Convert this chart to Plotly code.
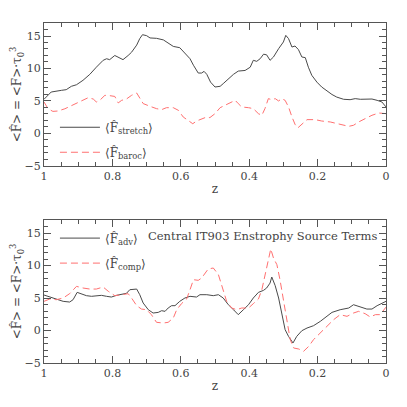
"""
Central IT903 enstrophy source terms, two stacked panels
"""

import plotly.graph_objects as go
from plotly.subplots import make_subplots

# painel superior
z_stretch = [1.0, 0.979, 0.949, 0.935, 0.92, 0.905, 0.886, 0.866, 0.847, 0.827, 0.817, 0.808,
             0.793, 0.783, 0.769, 0.754, 0.744, 0.729, 0.72, 0.712, 0.7, 0.69, 0.671, 0.651,
             0.637, 0.622, 0.603, 0.588, 0.573, 0.563, 0.549, 0.539, 0.532, 0.524, 0.513, 0.5,
             0.485, 0.476, 0.461, 0.446, 0.432, 0.412, 0.397, 0.388, 0.378, 0.368, 0.358, 0.349,
             0.339, 0.329, 0.314, 0.3, 0.293, 0.285, 0.275, 0.266, 0.256, 0.246, 0.236, 0.227,
             0.217, 0.202, 0.188, 0.173, 0.158, 0.144, 0.124, 0.105, 0.09, 0.075, 0.056, 0.041,
             0.026, 0.012, 0.0]
f_stretch = [5.26, 6.38, 6.64, 6.74, 7.26, 7.5, 8.18, 9.1, 10.2, 11.26, 11.5, 11.36,
             12.0, 11.7, 11.36, 12.0, 12.5, 13.6, 14.6, 15.2, 15.05, 14.7, 14.64, 14.4,
             13.9, 13.4, 13.2, 12.3, 11.5, 10.5, 9.3, 9.3, 9.56, 9.1, 7.9, 7.15,
             7.26, 7.67, 8.4, 9.1, 9.6, 9.7, 10.2, 11.26, 11.1, 11.5, 12.2, 12.1,
             11.26, 11.77, 13.05, 14.08, 15.1, 14.6, 13.3, 13.46, 12.9, 11.77, 11.67, 10.2,
             8.95, 7.9, 7.15, 6.54, 6.0, 5.6, 5.26, 5.2, 5.36, 5.26, 5.26, 5.3,
             5.1, 4.85, 4.08]

z_baroc = [1.0, 0.988, 0.974, 0.959, 0.939, 0.92, 0.9, 0.886, 0.871, 0.856, 0.847, 0.837,
           0.822, 0.808, 0.793, 0.783, 0.773, 0.759, 0.744, 0.729, 0.72, 0.71, 0.69, 0.671,
           0.656, 0.642, 0.622, 0.607, 0.593, 0.578, 0.565, 0.554, 0.539, 0.524, 0.515, 0.5,
           0.485, 0.466, 0.451, 0.441, 0.432, 0.422, 0.402, 0.388, 0.373, 0.363, 0.354, 0.344,
           0.334, 0.324, 0.314, 0.305, 0.295, 0.285, 0.275, 0.266, 0.258, 0.246, 0.231, 0.207,
           0.188, 0.163, 0.144, 0.124, 0.109, 0.095, 0.08, 0.061, 0.041, 0.021, 0.0]
f_baroc = [4.85, 3.8, 3.4, 3.46, 3.8, 4.28, 4.85, 5.2, 5.5, 5.3, 4.85, 5.1,
           5.87, 5.82, 5.7, 4.7, 5.1, 5.3, 5.87, 6.23, 5.36, 4.6, 4.18, 3.82,
           3.67, 3.97, 3.97, 3.56, 2.54, 1.92, 1.5, 1.92, 2.28, 2.54, 2.44, 3.05,
           3.97, 4.49, 4.85, 5.1, 4.6, 4.08, 3.97, 3.82, 3.05, 2.8, 3.82, 5.36,
           5.2, 5.36, 5.0, 5.36, 5.1, 4.08, 2.54, 1.41, 0.85, 1.41, 2.13, 2.13,
           1.92, 1.77, 1.5, 1.26, 1.1, 1.26, 1.77, 2.28, 2.8, 3.15, 3.05]

# painel inferior
z_adv = [1.0, 0.983, 0.964, 0.944, 0.925, 0.915, 0.903, 0.891, 0.876, 0.861, 0.847, 0.832,
         0.817, 0.803, 0.788, 0.773, 0.759, 0.749, 0.729, 0.72, 0.71, 0.695, 0.681, 0.666,
         0.656, 0.646, 0.637, 0.627, 0.617, 0.603, 0.588, 0.573, 0.554, 0.544, 0.524, 0.505,
         0.49, 0.476, 0.461, 0.446, 0.432, 0.417, 0.402, 0.388, 0.373, 0.358, 0.349, 0.339,
         0.334, 0.324, 0.314, 0.305, 0.295, 0.285, 0.272, 0.261, 0.246, 0.231, 0.212, 0.192,
         0.173, 0.158, 0.134, 0.109, 0.095, 0.075, 0.056, 0.041, 0.026, 0.0]
f_adv = [5.46, 5.15, 4.9, 4.49, 4.38, 4.74, 5.87, 5.67, 5.36, 5.26, 5.36, 5.41,
         5.26, 5.15, 5.41, 5.56, 5.72, 6.28, 6.38, 5.51, 4.23, 3.2, 2.69, 2.79,
         3.05, 2.95, 3.46, 3.82, 3.82, 4.49, 5.0, 5.26, 5.15, 5.51, 5.51, 5.36,
         5.51, 5.0, 3.97, 3.2, 2.44, 3.2, 3.97, 5.0, 5.87, 6.18, 6.54, 7.3,
         8.23, 6.9, 5.0, 2.69, 0.13, -0.9, -1.92, -0.9, -0.03, 0.38, 0.74, 1.41,
         2.18, 2.79, 3.2, 3.46, 3.97, 3.62, 3.3, 3.3, 3.82, 4.49]

z_comp = [1.0, 0.983, 0.964, 0.944, 0.925, 0.905, 0.886, 0.866, 0.847, 0.827, 0.812, 0.793,
          0.773, 0.754, 0.744, 0.729, 0.715, 0.7, 0.686, 0.671, 0.651, 0.637, 0.622, 0.612,
          0.598, 0.583, 0.573, 0.563, 0.549, 0.539, 0.52, 0.505, 0.49, 0.48, 0.466, 0.451,
          0.437, 0.422, 0.402, 0.388, 0.373, 0.363, 0.354, 0.344, 0.337, 0.329, 0.319, 0.31,
          0.3, 0.29, 0.28, 0.27, 0.255, 0.241, 0.226, 0.212, 0.192, 0.173, 0.153, 0.134,
          0.114, 0.095, 0.08, 0.061, 0.046, 0.031, 0.017, 0.0]
f_comp = [4.49, 4.85, 4.74, 5.0, 5.67, 6.79, 6.54, 6.38, 6.38, 6.69, 6.03, 5.36,
          5.51, 5.67, 5.0, 3.82, 3.3, 3.2, 2.44, 1.26, 1.15, 1.26, 1.92, 3.2,
          4.13, 4.85, 6.28, 7.82, 7.72, 8.08, 9.46, 9.62, 8.59, 6.9, 4.49, 3.46,
          3.2, 3.46, 3.46, 4.13, 4.85, 6.28, 8.59, 10.64, 12.54, 11.15, 10.13, 7.82,
          4.74, 1.67, -1.41, -2.69, -2.85, -3.2, -2.44, -1.41, -0.38, 0.64, 1.67, 2.44,
          2.18, 2.69, 2.95, 2.59, 2.08, 2.44, 2.44, 3.6]

FONTE = "DejaVu Serif"
COR_TXT = "#444"
PRETO = "#4a4a4a"
VERMELHO = "#ff7070"
Y_TITULO = "&lt;F\u0302&gt; = &lt;F&gt;\u00b7\u03c4<sub>0</sub><sup>3</sup>"

fig = make_subplots(rows=2, cols=1, vertical_spacing=0.159)

fig.add_trace(go.Scatter(
    x=z_stretch, y=f_stretch, mode='lines',
    name='\u27e8F\u0302<sub>stretch</sub>\u27e9',
    line=dict(color=PRETO, width=1),
    legend='legend', legendgroup='a'
), row=1, col=1)

fig.add_trace(go.Scatter(
    x=z_baroc, y=f_baroc, mode='lines',
    name='\u27e8F\u0302<sub>baroc</sub>\u27e9',
    line=dict(color=VERMELHO, width=1, dash='7px,4px'),
    legend='legend', legendgroup='b'
), row=1, col=1)

fig.add_trace(go.Scatter(
    x=z_adv, y=f_adv, mode='lines',
    name='\u27e8F\u0302<sub>adv</sub>\u27e9',
    line=dict(color=PRETO, width=1),
    legend='legend2', legendgroup='c'
), row=2, col=1)

fig.add_trace(go.Scatter(
    x=z_comp, y=f_comp, mode='lines',
    name='\u27e8F\u0302<sub>comp</sub>\u27e9',
    line=dict(color=VERMELHO, width=1, dash='7px,4px'),
    legend='legend2', legendgroup='d'
), row=2, col=1)

eixo_x = dict(
    range=[1, 0], dtick=0.2, showgrid=False, zeroline=False, automargin=False,
    showline=True, linecolor='#555', linewidth=1, mirror='ticks',
    ticks='inside', ticklen=7, tickcolor='#555',
    minor=dict(dtick=0.05, ticks='inside', ticklen=4, tickcolor='#555'),
    title=dict(text='z', standoff=2, font=dict(size=12, color=COR_TXT)),
)
eixo_y = dict(
    range=[-5, 17], tickvals=[-5, 0, 5, 10, 15], showgrid=False, zeroline=False,
    automargin=False,
    showline=True, linecolor='#555', linewidth=1, mirror='ticks',
    ticks='inside', ticklen=7, tickcolor='#555',
    minor=dict(dtick=1, ticks='inside', ticklen=4, tickcolor='#555'),
    title=dict(text=Y_TITULO, standoff=6, font=dict(size=12, color=COR_TXT)),
)

fig.update_xaxes(**eixo_x)
fig.update_yaxes(**eixo_y)

legenda = dict(
    bgcolor='rgba(0,0,0,0)', borderwidth=0,
    font=dict(family=FONTE, size=12, color=COR_TXT),
    tracegroupgap=6, itemwidth=40, xanchor='left', yanchor='top',
)

# a página tem 8px de margem no body
fig.update_layout(
    width=407, height=407,
    margin=dict(l=36, r=29, t=15, b=52),
    paper_bgcolor='white', plot_bgcolor='white',
    font=dict(family=FONTE, size=11, color=COR_TXT),
    showlegend=True,
    legend=dict(x=0.032, y=0.736, **legenda),
    legend2=dict(x=0.032, y=0.41, **legenda),
    annotations=[dict(
        text='Central IT903 Enstrophy Source Terms',
        xref='paper', yref='paper', x=0.98, y=0.373,
        xanchor='right', yanchor='middle', showarrow=False,
        font=dict(family=FONTE, size=11.5, color=COR_TXT)
    )]
)

fig.write_html("out.html")
